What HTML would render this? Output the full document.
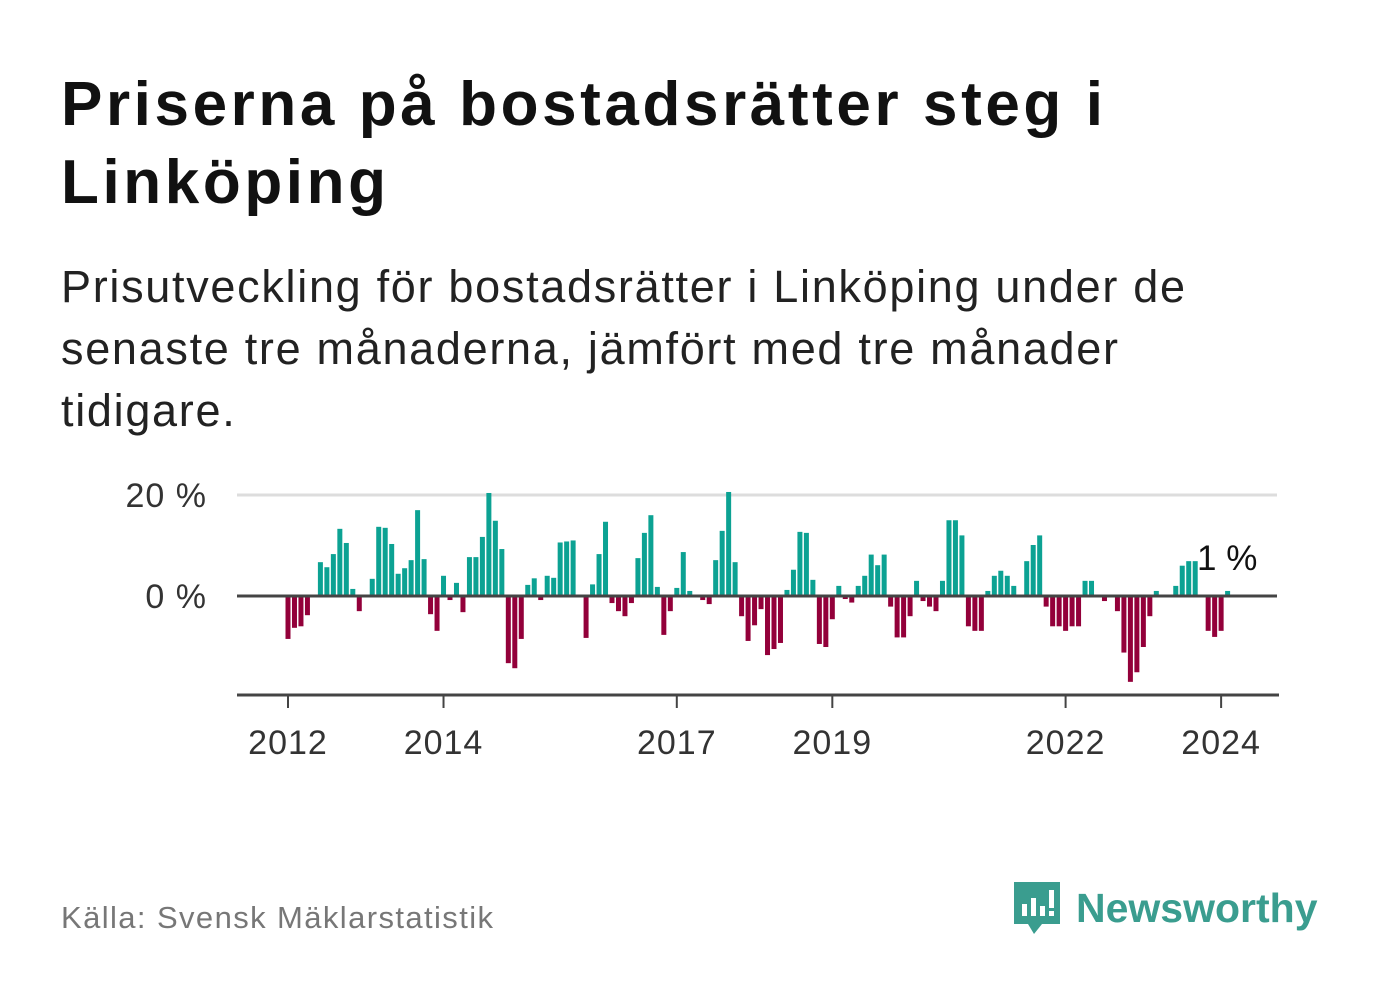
<!DOCTYPE html>
<html><head><meta charset="utf-8">
<style>
body{margin:0;background:#fff;width:1382px;height:999px;overflow:hidden;font-family:"Liberation Sans",sans-serif;}
#title{position:absolute;left:61px;top:66px;font-size:62px;font-weight:bold;line-height:78px;color:#111;margin:0;letter-spacing:3.6px}
#sub{position:absolute;left:61px;top:256px;font-size:45px;line-height:62px;color:#222;margin:0;width:1165px;letter-spacing:1.7px}
#src{position:absolute;left:61px;top:900px;font-size:31px;color:#777;letter-spacing:1.4px}
#logo{position:absolute;left:1010px;top:878px;display:flex;align-items:center}
#logo span{font-size:41px;font-weight:bold;color:#3a9d8f;margin-left:12px}
</style></head><body>
<h1 id="title">Priserna på bostadsrätter steg i<br>Linköping</h1>
<p id="sub">Prisutveckling för bostadsrätter i Linköping under de senaste tre månaderna, jämfört med tre månader tidigare.</p>
<svg id="chart" width="1382" height="999" style="position:absolute;left:0;top:0"></svg>
<div id="src">Källa: Svensk Mäklarstatistik</div>
<div id="logo">
<svg width="54" height="60" viewBox="0 0 54 60"><path d="M4 4h46v42H32l-8 10-6-10H4z" fill="#3a9d8f"/><rect x="12" y="26" width="5" height="12" fill="#fff"/><rect x="21" y="20" width="5" height="18" fill="#fff"/><rect x="30" y="28" width="5" height="10" fill="#fff"/><rect x="39" y="12" width="5" height="18" fill="#fff"/><rect x="39" y="33" width="5" height="5" fill="#fff"/></svg>
<span>Newsworthy</span></div>
<script>
const values=[-8.5,-6.3,-6,-3.8,0,6.7,5.7,8.3,13.3,10.5,1.4,-3,0,3.4,13.7,13.5,10.3,4.4,5.5,7.1,17,7.3,-3.6,-6.9,4,-0.8,2.6,-3.2,7.7,7.7,11.7,20.4,14.9,9.3,-13.3,-14.3,-8.5,2.2,3.5,-0.8,4,3.6,10.6,10.8,11,0,-8.3,2.3,8.3,14.7,-1.4,-3,-4,-1.4,7.5,12.5,16,1.8,-7.7,-3,1.6,8.7,1,0,-0.8,-1.6,7.1,12.9,20.6,6.7,-4,-8.9,-5.8,-2.6,-11.7,-10.5,-9.3,1.2,5.2,12.7,12.5,3.2,-9.5,-10.1,-4.6,2,-0.6,-1.3,2,4,8.2,6.1,8.2,-2.1,-8.2,-8.2,-4,3,-1,-2.1,-3,3,15,15,12,-6,-6.9,-6.9,1,4,5,4,2,0,6.9,10.1,12,-2.1,-6,-6,-6.9,-6,-6,3,3,0,-1,0,-3,-11.2,-17,-15.1,-10.1,-4,1,0,0,2,6,6.9,6.9,0,-6.9,-8.1,-6.9,1];
const startYear=2012;
const yTicks=[0,20];
const xTickYears=[2012,2014,2017,2019,2022,2024];
const lastLabel="1 %";
const svg=document.getElementById('chart');const NS='http://www.w3.org/2000/svg';
const x0=288,monthW=6.48,left=237,right=1277;
const y=v=>596-v*5.05;
const xm=i=>x0+i*monthW;
function el(t,a,p){const e=document.createElementNS(NS,t);for(const k in a)e.setAttribute(k,a[k]);(p||svg).appendChild(e);return e;}
yTicks.forEach(t=>{
 const g=el('line',{x1:left,x2:right,y1:y(t),y2:y(t),stroke:t===0?'#444':'#ddd','stroke-width':3});
 
 
 const tx=el('text',{x:207,y:y(t)+12,'text-anchor':'end','font-size':34,fill:'#333','font-family':'Liberation Sans, sans-serif','letter-spacing':1});
 tx.textContent=t+' %';
 
 
});
values.forEach((v,i)=>{
 if(v===0)return;
 const r=el('rect',{x:xm(i)-2.5,width:5,y:Math.min(y(v),y(0)),height:Math.abs(y(v)-y(0)),fill:v>0?'#0ca293':'#93003a'});
 
 
});
const z=el('line',{x1:left,x2:right,y1:y(0),y2:y(0),stroke:'#444','stroke-width':3});


const ax=el('line',{x1:left,x2:1279,y1:695,y2:695,stroke:'#444','stroke-width':3});


xTickYears.forEach(yr=>{
 const xx=xm((yr-startYear)*12);
 const tk=el('line',{x1:xx,x2:xx,y1:695,y2:708,stroke:'#444','stroke-width':2});
 
 
 const t=el('text',{x:xx,y:754,'text-anchor':'middle','font-size':34,fill:'#333','font-family':'Liberation Sans, sans-serif','letter-spacing':1});
 t.textContent=yr;
 
 
});
const lbl=el('text',{x:1197,y:570,'font-size':35,fill:'#111','font-family':'Liberation Sans, sans-serif'});
lbl.textContent=lastLabel;


</script>
</body></html>
